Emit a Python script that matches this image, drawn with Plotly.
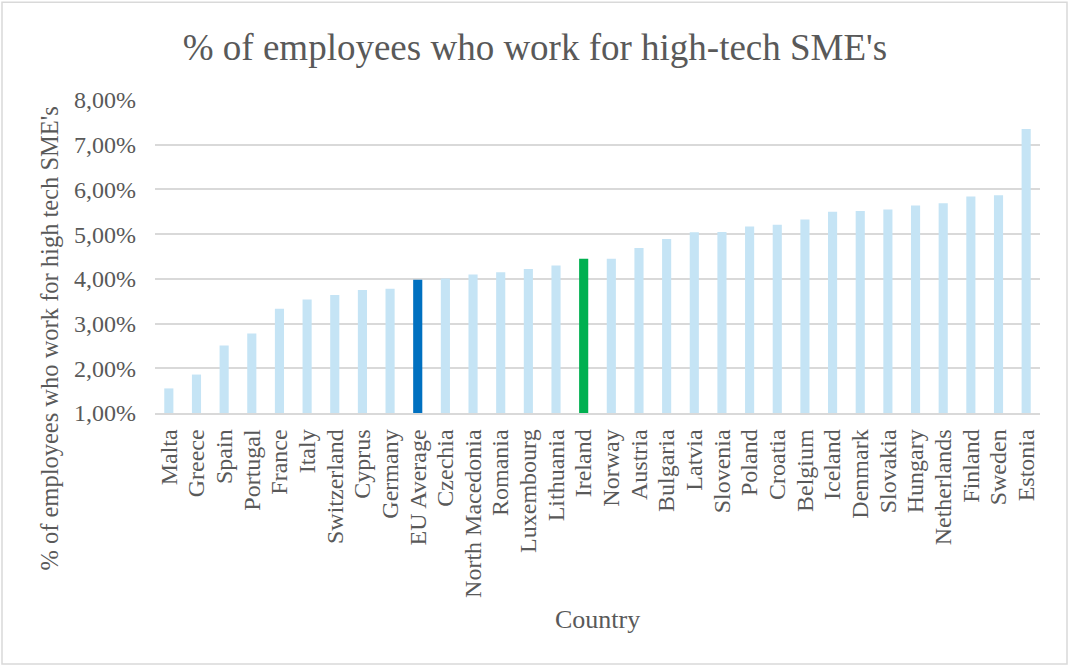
import plotly.graph_objects as go

countries = [
    "Malta", "Greece", "Spain", "Portugal", "France", "Italy", "Switzerland",
    "Cyprus", "Germany", "EU Average", "Czechia", "North Macedonia", "Romania",
    "Luxembourg", "Lithuania", "Ireland", "Norway", "Austria", "Bulgaria",
    "Latvia", "Slovenia", "Poland", "Croatia", "Belgium", "Iceland", "Denmark",
    "Slovakia", "Hungary", "Netherlands", "Finland", "Sweden", "Estonia",
]
share_pct = [
    1.55, 1.86, 2.51, 2.78, 3.33, 3.54, 3.64,
    3.75, 3.78, 3.98, 4.01, 4.10, 4.15,
    4.22, 4.30, 4.45, 4.45, 4.69, 4.89,
    5.04, 5.05, 5.17, 5.21, 5.33, 5.50, 5.52,
    5.55, 5.64, 5.69, 5.84, 5.87, 7.35,
]
y_ticks = [1, 2, 3, 4, 5, 6, 7, 8]
y_tick_text = [f"{v:.2f}%".replace(".", ",") for v in y_ticks]

BASE = "#C5E4F5"
HIGHLIGHT = {"EU Average": "#0070C0", "Ireland": "#00B050"}
bar_colors = [HIGHLIGHT.get(c, BASE) for c in countries]

TEXT = "#595959"
FONT = "Liberation Serif"

# plot-area geometry in pixels (used to place the axis titles)
PLOT_L, PLOT_R, PLOT_T, PLOT_B = 155.0, 1040.0, 100.0, 413.5
PW, PH = PLOT_R - PLOT_L, PLOT_B - PLOT_T


def px_to_paper(x, y):
    return (x - PLOT_L) / PW, (PLOT_B - y) / PH


fig = go.Figure(
    go.Bar(
        x=countries,
        y=share_pct,
        marker=dict(color=bar_colors, line=dict(width=0)),
        hovertemplate="%{x}: %{y:.2f}%<extra></extra>",
    )
)

fig.update_layout(
    width=1070,
    height=667,
    margin=dict(l=PLOT_L, r=1070 - PLOT_R, t=PLOT_T, b=667 - PLOT_B),
    paper_bgcolor="white",
    plot_bgcolor="white",
    bargap=0.67,
    showlegend=False,
    font=dict(family=FONT, color=TEXT, size=24),
    title=dict(
        text="% of employees who work for high-tech SME's",
        x=0.5,
        xref="container",
        xanchor="center",
        y=1 - 47 / 667,
        yref="container",
        yanchor="middle",
        font=dict(family=FONT, size=37, color=TEXT),
    ),
)

fig.update_xaxes(
    tickmode="array",
    tickvals=countries,
    ticktext=countries,
    tickangle=-90,
    tickfont=dict(family=FONT, size=24, color=TEXT),
    showgrid=False,
    showline=True,
    linecolor="#D9D9D9",
    linewidth=1.5,
    ticks="",
    ticklabelstandoff=5,
    automargin=False,
)
fig.update_yaxes(
    range=[1, 8],
    tickvals=y_ticks,
    ticktext=y_tick_text,
    tickfont=dict(family=FONT, size=24, color=TEXT),
    showgrid=True,
    gridcolor="#D9D9D9",
    gridwidth=1.5,
    zeroline=False,
    showline=False,
    ticks="",
    ticklabelstandoff=18,
    automargin=False,
)

# Axis titles
ytx, yty = px_to_paper(50, 339)
xtx, xty = px_to_paper(597, 620)
fig.add_annotation(
    text="% of employees who work for high tech SME's",
    xref="paper", yref="paper", x=ytx, y=yty,
    xanchor="center", yanchor="middle", textangle=-90, showarrow=False,
    font=dict(family=FONT, size=24.5, color=TEXT),
)
fig.add_annotation(
    text="Country",
    xref="paper", yref="paper", x=xtx, y=xty,
    xanchor="center", yanchor="middle", showarrow=False,
    font=dict(family=FONT, size=26, color=TEXT),
)

# Outer chart-area border
bx0, by0 = px_to_paper(2, 665)
bx1, by1 = px_to_paper(1067, 2)
fig.add_shape(
    type="rect",
    xref="paper", yref="paper",
    x0=bx0, x1=bx1, y0=by0, y1=by1,
    line=dict(color="#D9D9D9", width=1.5),
    fillcolor="rgba(0,0,0,0)",
    layer="below",
)

fig.write_html("out.html")
